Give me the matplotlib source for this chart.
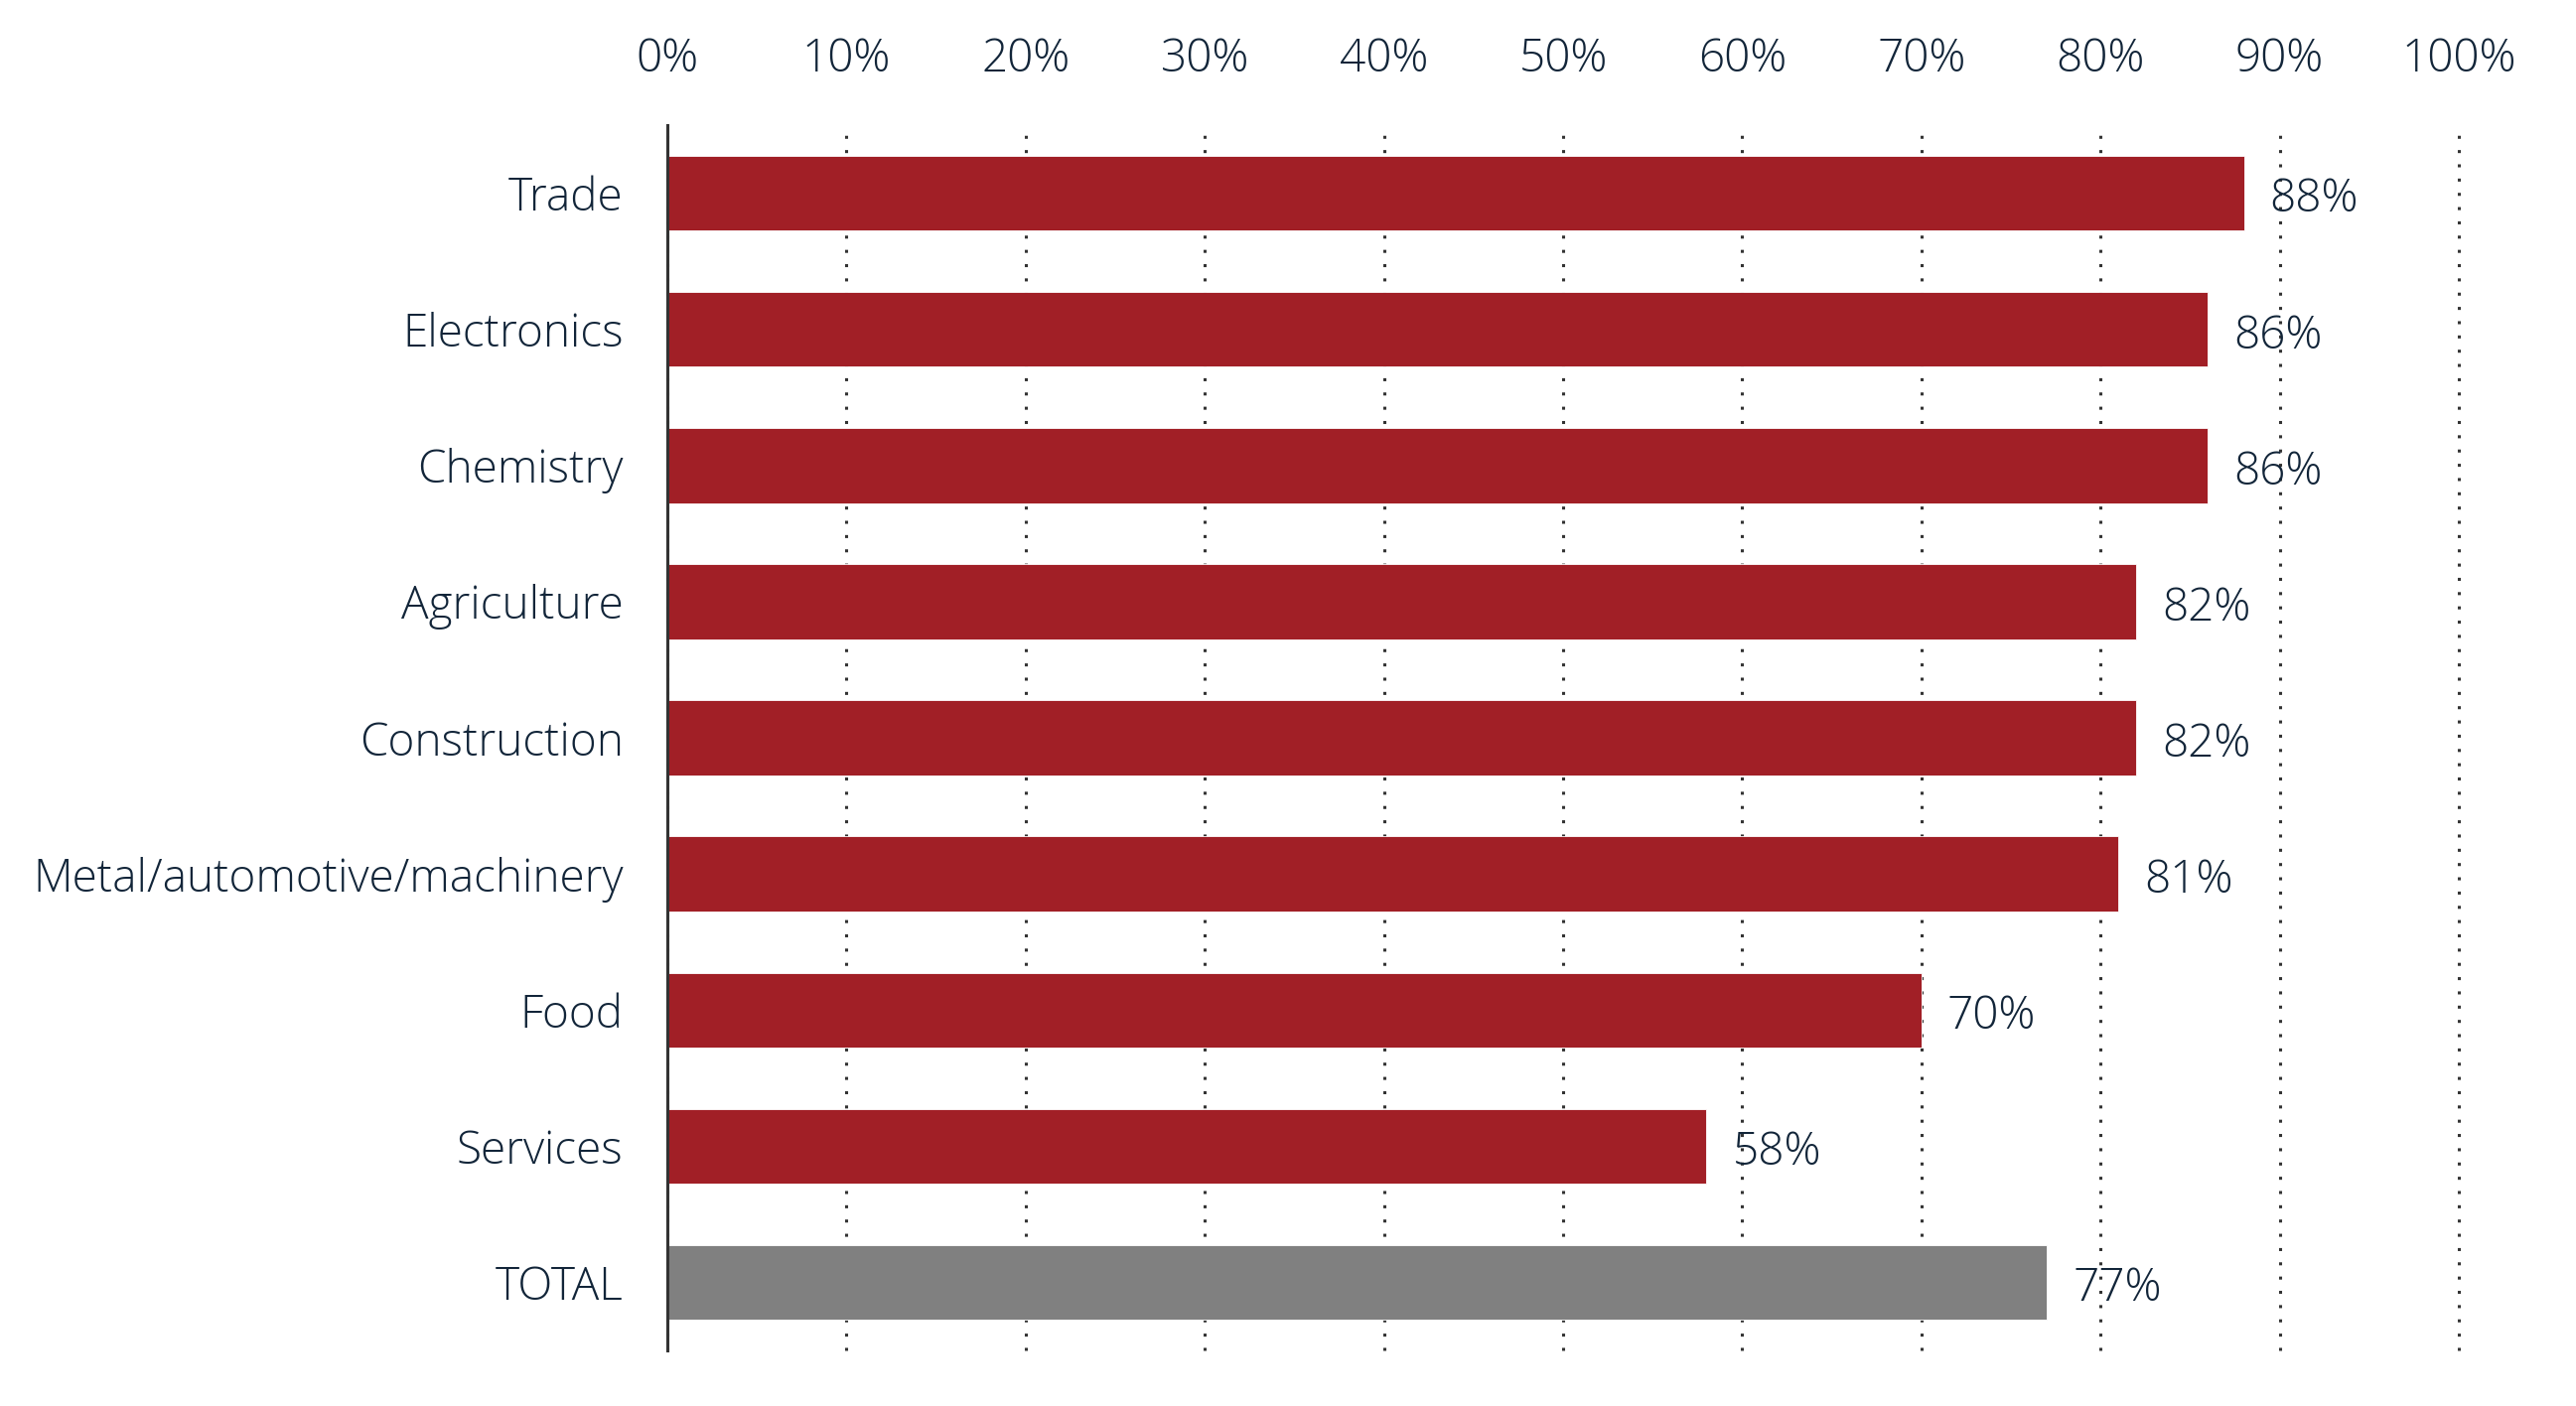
import matplotlib
matplotlib.use('Agg')
import matplotlib.pyplot as plt
import matplotlib.transforms as mtrans

### DATA ###

categories = ['Trade', 'Electronics', 'Chemistry', 'Agriculture', 'Construction',
              'Metal/automotive/machinery', 'Food', 'Services', 'TOTAL']
values = [88, 86, 86, 82, 82, 81, 70, 58, 77]
xticks = [0, 10, 20, 30, 40, 50, 60, 70, 80, 90, 100]

### STYLE ###

red = '#A11F26'
grey = '#808080'
text_col = '#122539'
fsize = 33
plt.rcParams['font.family'] = ['Open Sans', 'DejaVu Sans']
plt.rcParams['font.weight'] = 'light'

fig = plt.figure(figsize=(25.94, 14.16), dpi=100)
ax = fig.add_axes([0.2591, 0.0395, 0.9545 - 0.2591, 0.911 - 0.0395])

colors = [grey if c == 'TOTAL' else red for c in categories]
ypos = list(range(len(categories)))
ax.barh(ypos, values, height=0.55, color=colors, edgecolor='white',
        linewidth=0.6, zorder=3)

# value labels
for y, v in zip(ypos, values):
    ax.text(v + 1.45, y + 0.05, '{}%'.format(v), va='center', ha='left',
            fontsize=fsize, color=text_col, zorder=4)

ax.set_xlim(0, 100)
ax.set_ylim(len(categories) - 0.5, -0.5)
ax.set_yticks(ypos)
ax.set_yticklabels(categories, fontsize=fsize, color=text_col)
# nudge category labels up a little
shift = mtrans.ScaledTranslation(0, 4 / 100, fig.dpi_scale_trans)
for lab in ax.get_yticklabels():
    lab.set_transform(lab.get_transform() + shift)
ax.set_xticks(xticks)
ax.set_xticklabels(['{}%'.format(t) for t in xticks], fontsize=fsize, color=text_col)
ax.xaxis.tick_top()
ax.tick_params(axis='x', length=0, pad=31)
ax.tick_params(axis='y', length=0, pad=32)

# dotted vertical grid
ax.xaxis.grid(True, color='#333333', linewidth=2.2, linestyle=(0, (1, 3.7)), zorder=1)
ax.yaxis.grid(False)
for gl in ax.get_xgridlines():
    gl.set_clip_on(False)

for s in ['top', 'right', 'bottom']:
    ax.spines[s].set_visible(False)
ax.spines['left'].set_color('#333333')
ax.spines['left'].set_linewidth(2.2)
ax.spines['left'].set_zorder(5)

fig.savefig('out.png', dpi=100, facecolor='white')
